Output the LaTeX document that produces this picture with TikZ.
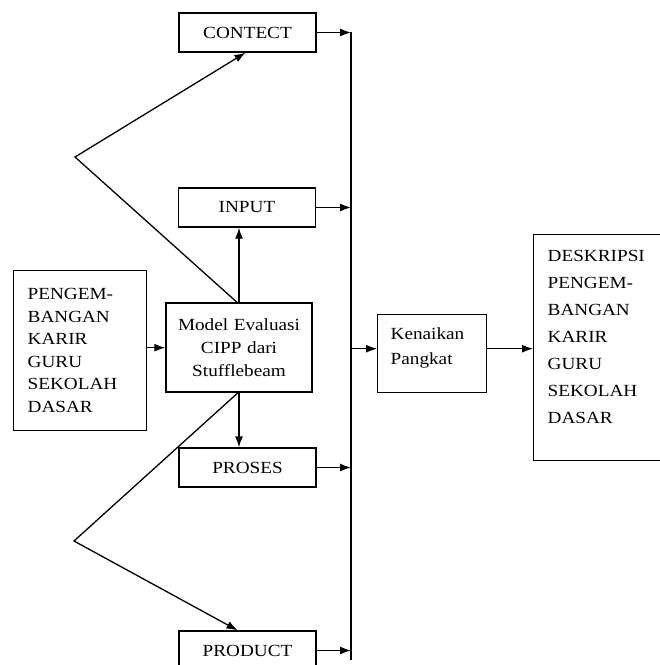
\documentclass[tikz,border=0pt]{standalone}
\usepackage{fontspec}
\setmainfont{Liberation Serif}[FakeStretch=1.13]
\usetikzlibrary{arrows.meta}

\tikzset{
  box/.style={draw, line width=1.4pt, inner sep=0pt, font=\fontsize{17}{23}\selectfont},
  smallbox/.style={box, minimum width=137pt, minimum height=39pt},
  textbox/.style={box, align=left, inner xsep=14pt},
  arr/.style={-{Latex[length=11pt,width=8pt]}, line width=1.3pt},
  plain/.style={line width=1.4pt},
}

\begin{document}
\begin{tikzpicture}[x=1pt,y=-1pt]
\useasboundingbox (0,0) rectangle (660,665);
\node[smallbox] (contect) at (247.5,32.5) {CONTECT};
\node[smallbox] (input) at (247,207.5) {INPUT};
\node[smallbox] (proses) at (247.5,467.5) {PROSES};
\node[smallbox] (product) at (247.5,650.5) {PRODUCT};
\node[box, align=center, text width=134pt, minimum width=146pt, minimum height=89pt] (model) at (239,347.5) {Model Evaluasi\\CIPP dari\\Stufflebeam};
\node[textbox, anchor=north west, text width=105pt, text height=29pt, text depth=131pt,
  font=\fontsize{17}{22.5}\selectfont] (pengembangan) at (13,270) {PENGEM-\\BANGAN\\KARIR\\GURU\\SEKOLAH\\DASAR};
\node[textbox, anchor=north west, text width=83pt, inner xsep=13pt, text height=25pt, text depth=53pt,
  font=\fontsize{17}{25}\selectfont] (kenaikan) at (377,314) {Kenaikan\\Pangkat};
\node[textbox, anchor=north west, text width=119pt, text height=27pt, text depth=199pt,
  font=\fontsize{17}{27}\selectfont] (deskripsi) at (533,234) {DESKRIPSI\\PENGEM-\\BANGAN\\KARIR\\GURU\\SEKOLAH\\DASAR};
\coordinate (bustop) at (351,32);
\coordinate (busbottom) at (351,660);
\coordinate (apexA) at (75,157);
\coordinate (apexB) at (74,541);
\draw[plain] (bustop)--(busbottom);
\draw[arr] (contect.east)--(contect -| bustop);
\draw[arr] (input.east)--(input -| bustop);
\draw[arr] (proses.east)--(proses -| bustop);
\draw[arr] (product.east)--(product -| bustop);
\draw[arr] ([yshift=3pt]pengembangan.east)--([yshift=3pt]pengembangan.east -| model.west);
\draw[arr] (model.north)--(model.north |- input.south);
\draw[arr] (model.south)--(model.south |- proses.north);
\draw[arr] ([xshift=-2pt]model.north)--(apexA)--([xshift=-2pt]contect.south);
\draw[arr] ([xshift=-1pt]model.south)--(apexB)--([xshift=-10pt]product.north);
\draw[arr] ([yshift=5pt]kenaikan.west -| bustop)--([yshift=5pt]kenaikan.west);
\draw[arr] ([yshift=5pt]kenaikan.east)--([yshift=5pt]kenaikan.east -| deskripsi.west);
\end{tikzpicture}
\end{document}
